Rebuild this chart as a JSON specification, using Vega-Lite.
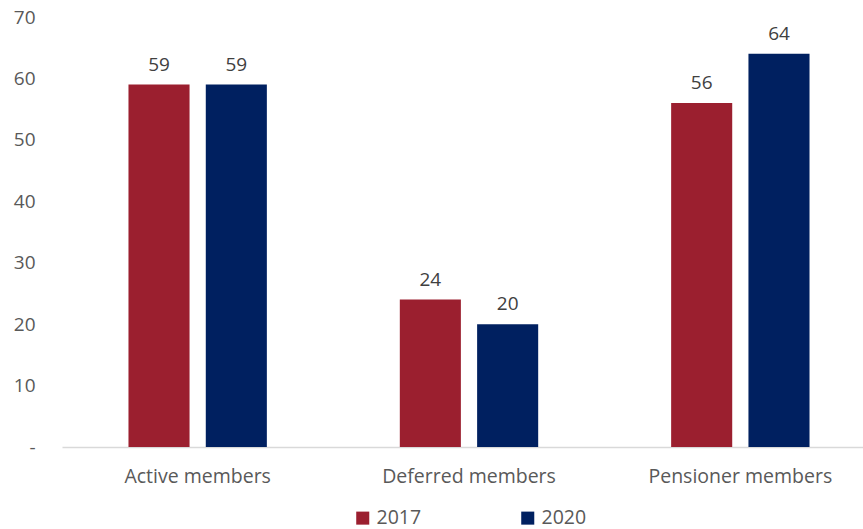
{
  "$schema": "https://vega.github.io/schema/vega-lite/v6.json",
  "width": 814,
  "height": 430,
  "autosize": {"type": "none"},
  "padding": {"left": 62, "top": 17, "right": 0, "bottom": 82},
  "background": "white",
  "config": {
    "view": {"stroke": null},
    "font": "Open Sans",
    "text": {"font": "Open Sans"}
  },
  "data": {
    "values": [
      {"group": "Active members", "year": "2017", "value": 59},
      {"group": "Active members", "year": "2020", "value": 59},
      {"group": "Deferred members", "year": "2017", "value": 24},
      {"group": "Deferred members", "year": "2020", "value": 20},
      {"group": "Pensioner members", "year": "2017", "value": 56},
      {"group": "Pensioner members", "year": "2020", "value": 64}
    ]
  },
  "encoding": {
    "x": {
      "field": "group",
      "type": "nominal",
      "sort": null,
      "scale": {"paddingInner": 0.49, "paddingOuter": 0.245},
      "axis": {
        "title": null,
        "labelAngle": 0,
        "labelFont": "Open Sans",
        "labelFontSize": 19.5,
        "labelColor": "#595959",
        "labelPadding": 20,
        "labelLimit": 400,
        "ticks": false,
        "domainColor": "#d9d9d9",
        "domainWidth": 1.5
      }
    },
    "xOffset": {
      "field": "year",
      "type": "nominal",
      "scale": {"paddingInner": 0.21, "paddingOuter": 0}
    },
    "y": {
      "field": "value",
      "type": "quantitative",
      "scale": {"domain": [0, 70], "nice": false},
      "axis": {
        "title": null,
        "values": [0, 10, 20, 30, 40, 50, 60, 70],
        "labelExpr": "datum.value == 0 ? '-\u00a0\u00a0' : datum.label",
        "labelFont": "Open Sans",
        "labelFontSize": 19,
        "labelColor": "#595959",
        "labelPadding": 27,
        "ticks": false,
        "domain": false,
        "grid": false
      }
    }
  },
  "layer": [
    {
      "mark": {"type": "bar"},
      "encoding": {
        "color": {
          "field": "year",
          "type": "nominal",
          "scale": {"domain": ["2017", "2020"], "range": ["#9b1f2f", "#002060"]},
          "legend": {
            "title": null,
            "orient": "none",
            "direction": "horizontal",
            "legendX": 291,
            "legendY": 491,
            "symbolType": "square",
            "symbolSize": 170,
            "symbolStrokeWidth": 0,
            "labelFont": "Open Sans",
            "labelFontSize": 19.5,
            "labelColor": "#595959",
            "labelOffset": 4,
            "columnPadding": 96
          }
        }
      }
    },
    {
      "mark": {"type": "text", "baseline": "bottom", "dy": -10, "fontSize": 19, "color": "#404040", "font": "Open Sans"},
      "encoding": {
        "text": {"field": "value", "type": "quantitative"}
      }
    }
  ]
}
